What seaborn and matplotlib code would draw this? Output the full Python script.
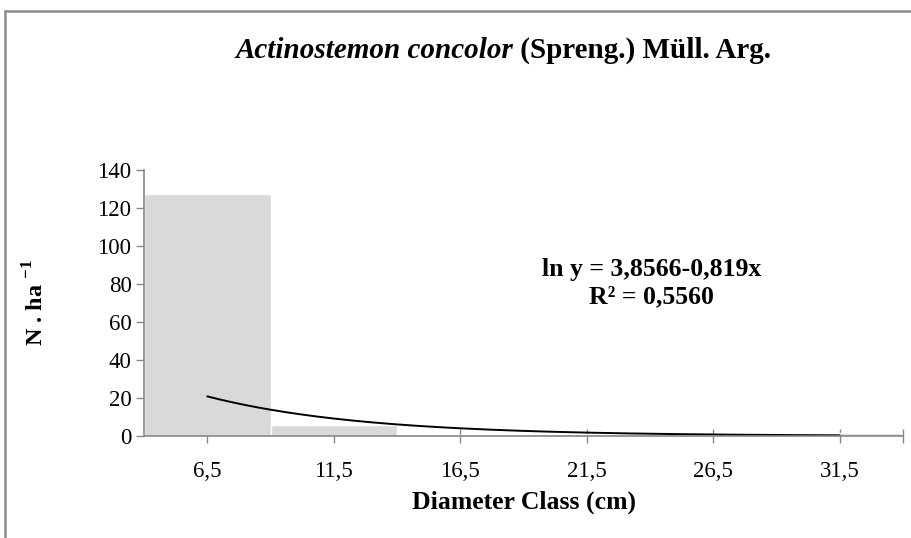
import matplotlib
matplotlib.use("Agg")
import matplotlib.pyplot as plt
from matplotlib.lines import Line2D
import numpy as np
import pandas as pd
import seaborn as sns

# classes de diâmetro (centro) e densidade por hectare
classes = ["6,5", "11,5", "16,5", "21,5", "26,5", "31,5"]
densidade = [127.2, 5.6, 0.4, 0.8, 1.0, 1.6]

# tendência exponencial mostrada no gráfico: ln y = a + b x
coef_a = 3.8566
coef_b = -0.819
r2_txt = "0,5560"

titulo_it = "Actinostemon concolor"
titulo_bf = " (Spreng.) Müll. Arg."

sns.set_theme(style="white")
plt.rcParams["font.family"] = ["Liberation Serif", "DejaVu Serif"]
plt.rcParams["mathtext.fontset"] = "custom"
plt.rcParams["mathtext.rm"] = "Liberation Serif"
plt.rcParams["mathtext.bf"] = "Liberation Serif:bold"
plt.rcParams["text.color"] = "black"
plt.rcParams["axes.labelcolor"] = "black"

fig = plt.figure(figsize=(9.11, 5.38), dpi=100)
ax = fig.add_axes([144 / 911, 102 / 538, 759 / 911, 266 / 538])

df = pd.DataFrame({"classe": classes, "n": densidade})
sns.barplot(data=df, x="classe", y="n", color="#d9d9d9", width=1.0,
            saturation=1, ax=ax)

# curva de tendência (x = 1..6 -> posições 0..5)
xs = np.linspace(1, len(classes), 200)
ys = np.exp(coef_a + coef_b * xs)
sns.lineplot(x=xs - 1, y=ys, color="black", linewidth=1.4, ax=ax)

ax.set_xlim(-0.5, len(classes) - 0.5)
ax.set_ylim(0, 140)
ax.set_yticks(range(0, 141, 20))
ax.set_xticks(range(len(classes)))
ax.set_xticklabels(classes)
ax.set_xticks([len(classes) - 0.5], minor=True)

for s in ["top", "right"]:
    ax.spines[s].set_visible(False)
for s in ["left", "bottom"]:
    ax.spines[s].set_color("#868686")
    ax.spines[s].set_linewidth(1.2)

ax.tick_params(axis="y", direction="out", length=6, width=1, color="#868686",
               labelcolor="black", labelsize=16.5, pad=3, left=True)
ax.tick_params(axis="x", which="both", direction="inout", length=10, width=1,
               color="#868686", labelcolor="black", labelsize=16.5, pad=13,
               bottom=True)

ax.set_xlabel("Diameter Class (cm)", fontsize=18.5, fontweight="bold", labelpad=6)
ax.set_ylabel(r"N . ha $^{\mathbf{-1}}$", fontsize=17.5, fontweight="bold",
              labelpad=35)

ax.text(0.669, 0.575, "ln y = 3,8566-0,819x\nR² = " + r2_txt,
        transform=ax.transAxes, ha="center", va="center",
        fontsize=18.5, fontweight="bold", linespacing=1.2)

# título com parte itálica e parte negrito
renderer = fig.canvas.get_renderer()
t1 = fig.text(0, 0, titulo_it, fontsize=21, fontstyle="italic", fontweight="bold")
t2 = fig.text(0, 0, titulo_bf, fontsize=21, fontweight="bold")
w1 = t1.get_window_extent(renderer).width
w2 = t2.get_window_extent(renderer).width
x0 = 503 - (w1 + w2) / 2
ty = 1 - 50 / 538
t1.set_position((x0 / 911, ty))
t1.set_va("center")
t2.set_position(((x0 + w1) / 911, ty))
t2.set_va("center")

# borda da área do gráfico
bx = 5 / 911
by = 1 - 11 / 538
fig.add_artist(Line2D([bx, 1.0], [by, by], color="#8c8c8c", linewidth=1.8,
                      transform=fig.transFigure))
fig.add_artist(Line2D([bx, bx], [0.0, by], color="#8c8c8c", linewidth=1.8,
                      transform=fig.transFigure))

fig.savefig("out.png", dpi=100)
